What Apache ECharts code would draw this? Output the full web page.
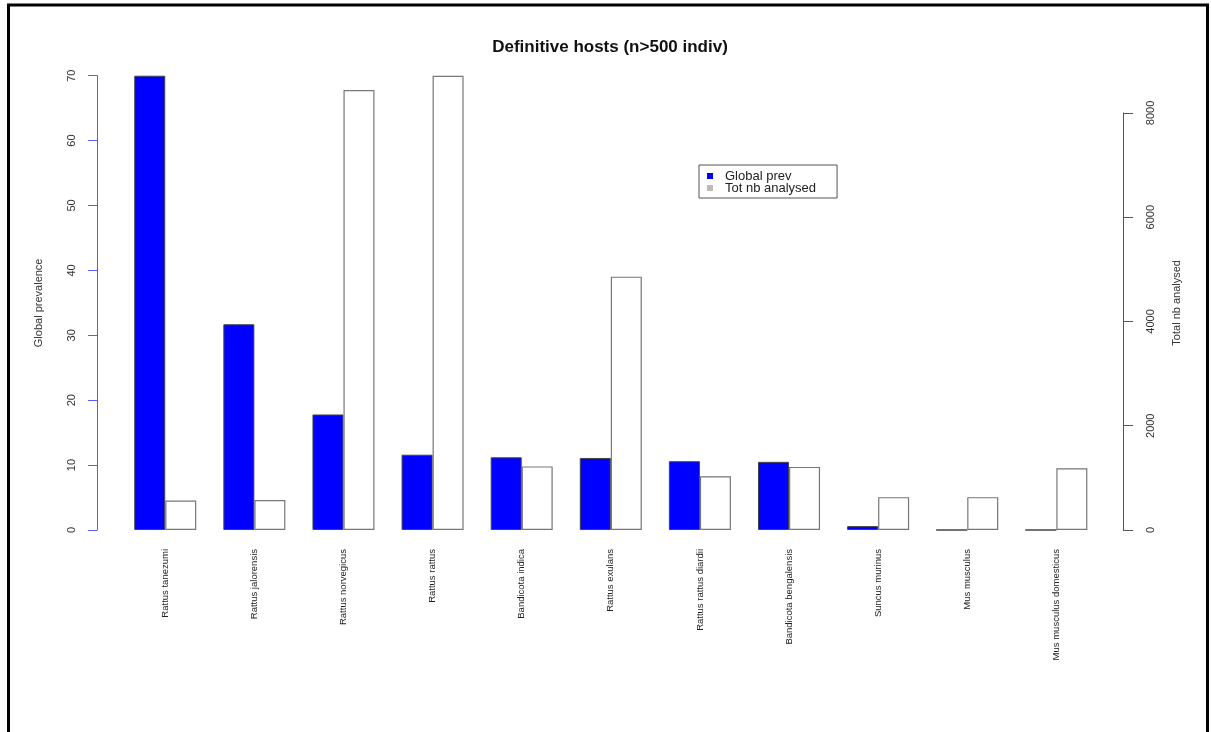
<!DOCTYPE html>
<html>
<head>
<meta charset="utf-8">
<script src="https://cdn.jsdelivr.net/npm/echarts@6/dist/echarts.min.js"></script>
<style>
html,body{margin:0;padding:0;background:#fff;}
#chart{width:1211px;height:732px;}
</style>
</head>
<body>
<div id="chart"></div>
<script>
const categories = ['Rattus tanezumi','Rattus jalorensis','Rattus norvegicus','Rattus rattus','Bandicota indica','Rattus exulans','Rattus rattus diardii','Bandicota bengalensis','Suncus murinus','Mus musculus','Mus musculus domesticus'];
const globalPrev = [70.0, 31.7, 17.8, 11.6, 11.2, 11.1, 10.6, 10.5, 0.6, 0, 0];
const totalAnalysed = [565, 575, 8440, 8715, 1220, 4860, 1030, 1210, 630, 630, 1185];
const leftTicks = [0, 10, 20, 30, 40, 50, 60, 70];
const rightTicks = [0, 2000, 4000, 6000, 8000];

const FONT = "'Liberation Sans', Arial, sans-serif";
const plotTop = 75.7, plotBottomY = 530;
const plotH = plotBottomY - plotTop;
const maxTotal = Math.max(...totalAnalysed);
const rightAxisTop = plotTop + plotH * (1 - rightTicks[rightTicks.length - 1] / maxTotal);
const gridLeft = 120.7, gridRight = 110.1;

const chart = echarts.init(document.getElementById('chart'), null, {renderer: 'canvas'});
chart.setOption({
  animation: false,
  backgroundColor: '#fff',
  title: {
    text: 'Definitive hosts (n>500 indiv)',
    left: 605, top: 34, textAlign: 'center',
    textStyle: {fontFamily: FONT, fontSize: 17, fontWeight: 'bold', color: '#111'}
  },
  graphic: [{
    type: 'rect', silent: true,
    shape: {x: 8.5, y: 5, width: 1199, height: 800},
    style: {fill: 'none', stroke: '#000', lineWidth: 3}
  }],
  legend: {
    orient: 'vertical', left: 699, top: 165,
    borderColor: '#555', borderWidth: 1,
    padding: [4.5, 21, 3.5, 8],
    itemWidth: 6, itemHeight: 6, itemGap: -1,
    icon: 'rect',
    textStyle: {fontFamily: FONT, fontSize: 13, color: '#222', padding: [0, 0, 0, 7]},
    data: [
      {name: 'Global prev', itemStyle: {color: '#0000ff', borderWidth: 0}},
      {name: 'Tot nb analysed', itemStyle: {color: '#bbbbbb', borderWidth: 0}}
    ]
  },
  grid: [
    {left: gridLeft, right: gridRight, top: plotTop, bottom: 732 - plotBottomY},
    {left: gridLeft, right: gridRight, top: rightAxisTop, bottom: 732 - plotBottomY}
  ],
  xAxis: [
    {
      type: 'category', gridIndex: 0, data: categories,
      axisLine: {show: false}, axisTick: {show: false},
      axisLabel: {rotate: 90, margin: 19, interval: 0, fontFamily: FONT, fontSize: 9.5, color: '#222'}
    },
    {type: 'category', gridIndex: 1, data: categories, show: false}
  ],
  yAxis: [
    {
      type: 'value', gridIndex: 0, position: 'left', offset: 23.7,
      min: leftTicks[0], max: leftTicks[leftTicks.length - 1], interval: 10,
      axisLine: {show: true, lineStyle: {color: '#5a5aff', width: 1}},
      axisTick: {show: true, length: 9, lineStyle: {color: '#5a5aff'}},
      axisLabel: {rotate: 90, margin: 20, fontFamily: FONT, fontSize: 11, color: '#333'},
      splitLine: {show: false},
      name: 'Global prevalence', nameLocation: 'middle', nameGap: 53, nameRotate: 90,
      nameTextStyle: {fontFamily: FONT, fontSize: 11, color: '#333'}
    },
    {
      type: 'value', gridIndex: 0, position: 'right', offset: 22.1,
      min: 0, max: maxTotal,
      axisLine: {show: false}, axisTick: {show: false}, axisLabel: {show: false},
      splitLine: {show: false},
      name: 'Total nb analysed', nameLocation: 'middle', nameGap: 48, nameRotate: 90,
      nameTextStyle: {fontFamily: FONT, fontSize: 11, color: '#333'}
    },
    {
      type: 'value', gridIndex: 1, position: 'right', offset: 22.1,
      min: rightTicks[0], max: rightTicks[rightTicks.length - 1], interval: 2000,
      axisLine: {show: true, lineStyle: {color: '#555', width: 1}},
      axisTick: {show: true, length: 10, lineStyle: {color: '#555'}},
      axisLabel: {rotate: 90, margin: 22, fontFamily: FONT, fontSize: 11, color: '#333',
        formatter: function (v) { return String(v); }},
      splitLine: {show: false}
    }
  ],
  series: [
    {
      name: 'Global prev', type: 'bar', xAxisIndex: 0, yAxisIndex: 0,
      data: globalPrev, barWidth: '34.8%', barGap: '0%',
      itemStyle: {color: '#0000ff', borderColor: '#444', borderWidth: 1}
    },
    {
      name: 'Tot nb analysed', type: 'bar', xAxisIndex: 0, yAxisIndex: 1,
      data: totalAnalysed, barWidth: '34.8%', barGap: '0%',
      itemStyle: {color: '#ffffff', borderColor: '#777', borderWidth: 1.2}
    }
  ]
});
</script>
</body>
</html>
